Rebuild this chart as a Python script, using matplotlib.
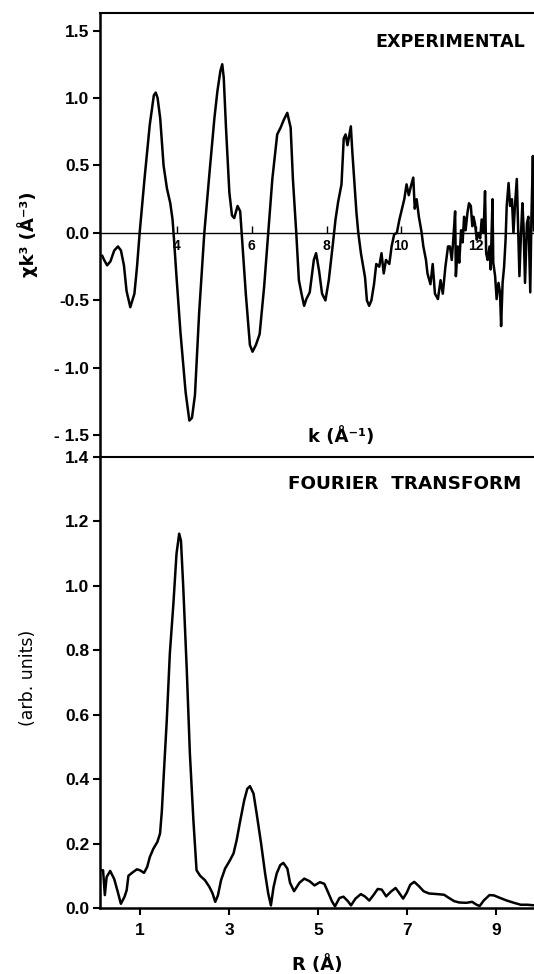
import matplotlib
matplotlib.use("Agg")
import matplotlib.pyplot as plt

plt.rcParams['font.family'] = ['Liberation Sans', 'DejaVu Sans']
plt.rcParams['font.weight'] = 'bold'
wide = ['DejaVu Sans']

# EXAFS signal chi*k^3
k_exp = [2.00, 2.05, 2.13, 2.22, 2.32, 2.42, 2.50, 2.58, 2.65, 2.75, 2.86, 2.93,
         3.00, 3.13, 3.27, 3.38, 3.43, 3.48, 3.55, 3.64, 3.73, 3.82, 3.88, 3.92,
         3.98, 4.09, 4.23, 4.33, 4.40, 4.48, 4.59, 4.73, 4.87, 5.00, 5.08, 5.16,
         5.21, 5.25, 5.31, 5.40, 5.47, 5.53, 5.62, 5.69, 5.73, 5.84, 5.95, 6.02,
         6.11, 6.21, 6.33, 6.44, 6.55, 6.68, 6.77, 6.86, 6.95, 7.04, 7.10, 7.19,
         7.26, 7.33, 7.40, 7.46, 7.55, 7.66, 7.72, 7.80, 7.88, 7.97, 8.06, 8.17,
         8.24, 8.31, 8.40, 8.46, 8.51, 8.56, 8.60, 8.65, 8.69, 8.74, 8.80, 8.85,
         8.92, 8.98, 9.03, 9.08, 9.14, 9.20, 9.27, 9.33, 9.41, 9.47, 9.53, 9.59,
         9.68, 9.74, 9.81, 9.88, 9.95, 10.02, 10.08, 10.14, 10.20, 10.26, 10.32,
         10.36, 10.41, 10.47, 10.54, 10.59, 10.66, 10.70, 10.78, 10.84, 10.90,
         10.98, 11.05, 11.11, 11.18, 11.25, 11.30, 11.35, 11.39, 11.44, 11.46,
         11.51, 11.55, 11.60, 11.64, 11.68, 11.72, 11.77, 11.81, 11.86, 11.90,
         11.93, 11.97, 12.02, 12.06, 12.11, 12.15, 12.20, 12.24, 12.27, 12.31,
         12.36, 12.39, 12.44, 12.46, 12.51, 12.55, 12.60, 12.64, 12.67, 12.71,
         12.75, 12.79, 12.82, 12.87, 12.91, 12.96, 13.00, 13.04, 13.09, 13.12,
         13.16, 13.20, 13.24, 13.27, 13.31, 13.36, 13.40, 13.45, 13.48, 13.52,
         13.55]
chi_k3 = [-0.17, -0.20, -0.24, -0.21, -0.13, -0.10, -0.13, -0.24, -0.43, -0.55, -0.45, -0.25,
          0.00, 0.40, 0.80, 1.02, 1.04, 1.00, 0.85, 0.50, 0.33, 0.22, 0.10, -0.05,
          -0.30, -0.73, -1.18, -1.39, -1.37, -1.20, -0.60, 0.00, 0.45, 0.85, 1.05, 1.20,
          1.25, 1.15, 0.78, 0.30, 0.13, 0.11, 0.20, 0.16, 0.00, -0.45, -0.83, -0.88,
          -0.83, -0.75, -0.40, 0.00, 0.40, 0.73, 0.78, 0.84, 0.89, 0.78, 0.40, 0.00,
          -0.35, -0.45, -0.54, -0.49, -0.44, -0.20, -0.15, -0.28, -0.45, -0.50, -0.35, -0.08,
          0.10, 0.23, 0.36, 0.70, 0.73, 0.65, 0.71, 0.79, 0.60, 0.40, 0.15, 0.00,
          -0.15, -0.25, -0.33, -0.50, -0.54, -0.50, -0.38, -0.23, -0.25, -0.15, -0.30, -0.20,
          -0.23, -0.10, -0.01, 0.00, 0.10, 0.18, 0.25, 0.36, 0.28, 0.35, 0.41,
          0.18, 0.25, 0.12, 0.01, -0.10, -0.20, -0.30, -0.38, -0.23, -0.45,
          -0.49, -0.35, -0.45, -0.25, -0.10, -0.10, -0.20, -0.05, 0.16, -0.32,
          -0.10, -0.22, 0.02, -0.07, 0.12, 0.02, 0.15, 0.22, 0.20, 0.05,
          0.12, 0.07, -0.05, 0.00, -0.04, 0.10, 0.00, 0.31, -0.15, -0.20,
          -0.10, -0.27, 0.25, -0.22, -0.32, -0.49, -0.37, -0.44, -0.69, -0.37,
          -0.25, -0.05, 0.20, 0.37, 0.20, 0.25, 0.00, 0.20, 0.40, 0.10,
          -0.32, -0.02, 0.22, 0.05, -0.37, 0.07, 0.12, -0.44, 0.10, 0.57,
          0.02]

# Fourier transform magnitude
r_ft = [0.11, 0.17, 0.21, 0.25, 0.33, 0.42, 0.50, 0.57, 0.65, 0.70, 0.74, 0.83,
        0.93, 1.00, 1.09, 1.16, 1.22, 1.30, 1.39, 1.45, 1.49, 1.54, 1.60, 1.67,
        1.75, 1.82, 1.88, 1.92, 1.97, 2.05, 2.12, 2.20, 2.27, 2.35, 2.46, 2.56,
        2.63, 2.69, 2.75, 2.82, 2.91, 3.02, 3.10, 3.17, 3.25, 3.34, 3.41, 3.47,
        3.55, 3.62, 3.72, 3.81, 3.88, 3.94, 4.00, 4.07, 4.15, 4.22, 4.31, 4.37,
        4.46, 4.58, 4.69, 4.81, 4.92, 5.04, 5.14, 5.23, 5.31, 5.38, 5.48, 5.57,
        5.67, 5.74, 5.84, 5.96, 6.05, 6.15, 6.25, 6.34, 6.43, 6.53, 6.63, 6.74,
        6.82, 6.91, 6.99, 7.07, 7.16, 7.27, 7.37, 7.49, 7.68, 7.83, 7.94, 8.06,
        8.17, 8.33, 8.46, 8.56, 8.63, 8.72, 8.85, 8.95, 9.09, 9.24, 9.40, 9.55,
        9.70, 9.87]
ft_mag = [0.117, 0.117, 0.040, 0.096, 0.115, 0.090, 0.050, 0.013, 0.034, 0.055, 0.100, 0.110,
          0.120, 0.117, 0.109, 0.127, 0.158, 0.184, 0.205, 0.231, 0.300, 0.430, 0.580, 0.790,
          0.945, 1.100, 1.162, 1.140, 1.000, 0.740, 0.480, 0.270, 0.117, 0.100, 0.086, 0.065,
          0.045, 0.019, 0.039, 0.086, 0.122, 0.148, 0.169, 0.210, 0.270, 0.334, 0.370, 0.378,
          0.355, 0.293, 0.200, 0.107, 0.045, 0.008, 0.065, 0.107, 0.133, 0.140, 0.122, 0.078,
          0.052, 0.078, 0.091, 0.083, 0.070, 0.080, 0.075, 0.047, 0.021, 0.005, 0.031, 0.035,
          0.021, 0.008, 0.029, 0.043, 0.036, 0.023, 0.041, 0.059, 0.057, 0.036, 0.050, 0.062,
          0.047, 0.029, 0.047, 0.072, 0.081, 0.067, 0.052, 0.045, 0.043, 0.041, 0.031, 0.021,
          0.017, 0.016, 0.019, 0.010, 0.006, 0.023, 0.040, 0.039, 0.031, 0.023, 0.016, 0.010,
          0.010, 0.008]

k_ticks = [4, 6, 8, 10, 12]
chi_ticks = [-1.5, -1.0, -0.5, 0.0, 0.5, 1.0, 1.5]
chi_labels = ['- 1.5', '- 1.0', '-0.5', '0.0', '0.5', '1.0', '1.5']
r_ticks = [1, 3, 5, 7, 9]
ft_ticks = [0.0, 0.2, 0.4, 0.6, 0.8, 1.0, 1.2, 1.4]

fig = plt.figure(figsize=(5.34, 9.74), dpi=100)
ax1 = fig.add_axes([0.188, 0.5308, 0.812, 0.4559])
ax2 = fig.add_axes([0.188, 0.0678, 0.812, 0.4630])

# top panel
ax1.plot(k_exp, chi_k3, color='black', lw=1.8)
ax1.set_xlim(1.95, 13.55)
ax1.set_ylim(-1.66, 1.63)
ax1.spines['right'].set_visible(False)
ax1.spines['top'].set_linewidth(1.5)
ax1.spines['left'].set_linewidth(1.8)
ax1.spines['bottom'].set_position(('data', 0))
ax1.spines['bottom'].set_linewidth(1.0)
ax1.set_xticks(k_ticks)
ax1.set_yticks(chi_ticks)
ax1.set_yticklabels(chi_labels)
ax1.tick_params(axis='x', direction='in', length=5, width=1.0, pad=4, labelsize=10)
ax1.tick_params(axis='y', direction='out', length=5, width=1.5, pad=3, labelsize=12.5)
ax1.text(0.979, 0.935, 'EXPERIMENTAL', transform=ax1.transAxes, ha='right', va='center',
         fontsize=12.6, family=wide)
ax1.text(8.4, -1.51, 'k (Å⁻¹)', ha='center', va='center', fontsize=13, family=wide)

# bottom panel
ax2.plot(r_ft, ft_mag, color='black', lw=1.8)
ax2.set_xlim(0.11, 9.85)
ax2.set_ylim(0, 1.40)
ax2.spines['right'].set_visible(False)
ax2.spines['top'].set_linewidth(1.5)
ax2.spines['left'].set_linewidth(1.8)
ax2.spines['bottom'].set_linewidth(1.8)
ax2.set_xticks(r_ticks)
ax2.set_yticks(ft_ticks)
ax2.set_yticklabels([f'{v:.1f}' for v in ft_ticks])
ax2.tick_params(axis='both', direction='out', length=5, width=1.5, pad=3, labelsize=12.5)
ax2.tick_params(axis='x', pad=6)
ax2.text(0.97, 0.94, 'FOURIER  TRANSFORM', transform=ax2.transAxes, ha='right', va='center',
         fontsize=13.2, family=wide)

fig.text(0.052, 0.76, 'χk³ (Å⁻³)', rotation=90, ha='center', va='center', fontsize=13,
         family=wide)
fig.text(0.052, 0.304, '(arb. units)', rotation=90, ha='center', va='center', fontsize=12.5,
         fontweight='normal', family=wide)
fig.text(0.595, 0.0095, 'R (Å)', ha='center', va='center', fontsize=13, family=wide)

fig.savefig('out.png', dpi=100)
